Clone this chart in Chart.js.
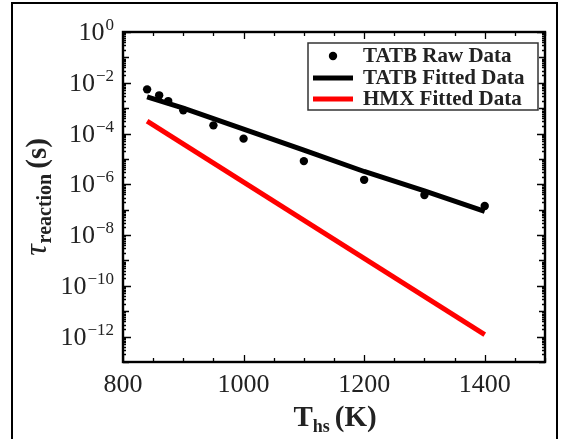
<!DOCTYPE html>
<html lang="en">
<head>
<meta charset="UTF-8" />
<title>Reaction time vs hot-spot temperature</title>
<script src="https://cdn.jsdelivr.net/npm/chart.js"></script>
<style>
  html, body { margin: 0; padding: 0; background: #fff; }
  #wrap { position: relative; width: 562px; height: 439px; overflow: hidden; }
  #frame { position: absolute; left: 11px; top: 2px; width: 547px; height: 440px;
           border: 2px solid #000; border-bottom: none; box-sizing: border-box; }
  #chart { position: absolute; left: 0; top: 0; }
</style>
</head>
<body>
<div id="wrap">
  <div id="frame"></div>
  <canvas id="chart" width="562" height="439"></canvas>
</div>
<script>
// data
const rawTemps = [840, 860, 875, 900, 950, 1000, 1100, 1200, 1300, 1400];
const rawTau = [5.5e-3, 3.2e-3, 1.9e-3, 8.2e-4, 2.1e-4, 6.3e-5, 8.2e-6, 1.5e-6, 3.8e-7, 1.4e-7];

const tatbFitTemps = [840, 900, 1000, 1100, 1200, 1300, 1400];
const tatbFitTau = [2.8e-3, 1.0e-3, 1.5e-4, 2.2e-5, 3.2e-6, 5.5e-7, 8.5e-8];

const hmxFitTemps = [840, 1400];
const hmxFitTau = [3.1e-4, 1.2e-12];

const xTickValues = [800, 1000, 1200, 1400];
const yTickExponents = [0, -2, -4, -6, -8, -10, -12];

const SERIF = '"Liberation Serif", "DejaVu Serif", serif';

function pts(xs, ys) {
    return xs.map((x, i) => ({ x: x, y: ys[i] }));
}

// frame + inward ticks on all four sides
const frameTicks = {
    id: 'frameTicks',
    afterDatasetsDraw(chart) {
        const ctx = chart.ctx, a = chart.chartArea;
        const xs = chart.scales.x, ys = chart.scales.y;
        ctx.save();
        ctx.strokeStyle = '#000';
        ctx.lineWidth = 1.3;
        ctx.beginPath();
        for (let v = 800; v <= 1500; v += 50) {
            const px = Math.round(xs.getPixelForValue(v)) + 0.5;
            const len = v % 200 === 0 ? 7 : 4;
            ctx.moveTo(px, a.bottom); ctx.lineTo(px, a.bottom - len);
            ctx.moveTo(px, a.top); ctx.lineTo(px, a.top + len);
        }
        for (let d = -13; d <= 0; d++) {
            for (let k = 1; k <= 9; k++) {
                const v = k * Math.pow(10, d);
                if (v > 1) break;
                const py = Math.round(ys.getPixelForValue(v)) + 0.5;
                const len = k === 1 ? (d % 2 === 0 ? 8 : 6) : 3;
                ctx.moveTo(a.left, py); ctx.lineTo(a.left + len, py);
                ctx.moveTo(a.right, py); ctx.lineTo(a.right - len, py);
            }
        }
        ctx.stroke();
        ctx.lineWidth = 2.4;
        ctx.strokeRect(a.left, a.top, a.right - a.left, a.bottom - a.top);
        ctx.restore();
    }
};

// y tick labels as 10 with a raised exponent
const powerLabels = {
    id: 'powerLabels',
    afterDraw(chart) {
        const ctx = chart.ctx, ys = chart.scales.y;
        const baseF = '26px ' + SERIF, expF = '17px ' + SERIF;
        ctx.save();
        ctx.fillStyle = '#222';
        ctx.textBaseline = 'alphabetic';
        ctx.textAlign = 'left';
        yTickExponents.forEach(e => {
            const py = ys.getPixelForValue(Math.pow(10, e));
            const expText = e < 0 ? '\u2212' + Math.abs(e) : String(e);
            ctx.font = expF; const wE = ctx.measureText(expText).width;
            ctx.font = baseF; const wB = ctx.measureText('10').width;
            const right = 114;
            ctx.fillText('10', right - wE - 1 - wB, py + 8);
            ctx.font = expF;
            ctx.fillText(expText, right - wE, py - 2);
        });
        ctx.restore();
    }
};

// legend box in the upper right of the plot
const boxLegend = {
    id: 'boxLegend',
    afterDraw(chart) {
        const ctx = chart.ctx;
        const bx = 308, by = 43, bw = 230, bh = 67;
        const rows = [56, 78, 99];
        ctx.save();
        ctx.fillStyle = '#fff';
        ctx.fillRect(bx, by, bw, bh);
        ctx.strokeStyle = '#333';
        ctx.lineWidth = 1.5;
        ctx.strokeRect(bx, by, bw, bh);
        chart.data.datasets.forEach((ds, i) => {
            const y = rows[i];
            if (ds.showLine) {
                ctx.strokeStyle = ds.borderColor;
                ctx.lineWidth = 5;
                ctx.beginPath();
                ctx.moveTo(313, y); ctx.lineTo(353, y);
                ctx.stroke();
            } else {
                ctx.fillStyle = ds.backgroundColor;
                ctx.beginPath();
                ctx.arc(333, y, 4.2, 0, Math.PI * 2);
                ctx.fill();
            }
            ctx.fillStyle = '#222';
            ctx.font = 'bold 21px ' + SERIF;
            ctx.textBaseline = 'middle';
            ctx.textAlign = 'left';
            ctx.fillText(ds.label, 363, y + 1);
        });
        ctx.restore();
    }
};

// axis titles with subscripts
const axisTitles = {
    id: 'axisTitles',
    afterDraw(chart) {
        const ctx = chart.ctx;
        ctx.save();
        ctx.fillStyle = '#222';
        ctx.textBaseline = 'alphabetic';
        ctx.textAlign = 'left';

        // x: T_hs (K)
        const bigX = 'bold 29px ' + SERIF, smallX = 'bold 18px ' + SERIF;
        ctx.font = bigX; const wT = ctx.measureText('T').width;
        const wK = ctx.measureText('(K)').width;
        ctx.font = smallX; const wHs = ctx.measureText('hs').width;
        let x = 335 - (wT + wHs + 5 + wK) / 2;
        const base = 426;
        ctx.font = bigX; ctx.fillText('T', x, base); x += wT;
        ctx.font = smallX; ctx.fillText('hs', x, base + 6); x += wHs + 5;
        ctx.font = bigX; ctx.fillText('(K)', x, base);

        // y: tau_reaction (s), rotated
        const tauF = 'italic 32px ' + SERIF, subF = 'bold 20px ' + SERIF, unitF = 'bold 29px ' + SERIF;
        ctx.font = tauF; const wTau = ctx.measureText('τ').width;
        ctx.font = subF; const wSub = ctx.measureText('reaction').width;
        ctx.font = unitF; const wS = ctx.measureText('(s)').width;
        const total = wTau + 1 + wSub + 5 + wS;
        ctx.translate(46, 197);
        ctx.rotate(-Math.PI / 2);
        let t = -total / 2;
        ctx.font = tauF; ctx.fillText('τ', t, 0); t += wTau + 1;
        ctx.font = subF; ctx.fillText('reaction', t, 5); t += wSub + 5;
        ctx.font = unitF; ctx.fillText('(s)', t, 0);
        ctx.restore();
    }
};

new Chart(document.getElementById('chart'), {
    type: 'scatter',
    data: {
        datasets: [{
            label: 'TATB Raw Data',
            data: pts(rawTemps, rawTau),
            showLine: false,
            pointRadius: 4.2,
            pointBackgroundColor: '#000',
            backgroundColor: '#000',
            borderColor: '#000',
            pointBorderWidth: 0
        }, {
            label: 'TATB Fitted Data',
            data: pts(tatbFitTemps, tatbFitTau),
            showLine: true,
            borderColor: '#000',
            borderWidth: 5,
            pointRadius: 0,
            tension: 0
        }, {
            label: 'HMX Fitted Data',
            data: pts(hmxFitTemps, hmxFitTau),
            showLine: true,
            borderColor: '#ff0000',
            borderWidth: 5,
            pointRadius: 0
        }]
    },
    options: {
        responsive: false,
        animation: false,
        layout: { padding: { left: 0, top: 32, right: 17, bottom: 0 } },
        plugins: {
            legend: { display: false },
            tooltip: { enabled: false }
        },
        scales: {
            x: {
                type: 'linear',
                min: 800,
                max: 1500,
                afterBuildTicks: s => { s.ticks = xTickValues.map(v => ({ value: v })); },
                afterFit: s => { s.height = 77; },
                grid: { display: false, drawTicks: false },
                border: { display: false },
                ticks: {
                    color: '#222',
                    font: { family: SERIF, size: 26 },
                    padding: 8,
                    maxRotation: 0,
                    callback: v => String(v)
                }
            },
            y: {
                type: 'logarithmic',
                min: 1e-13,
                max: 1,
                afterBuildTicks: s => { s.ticks = yTickExponents.map(e => ({ value: Math.pow(10, e) })); },
                afterFit: s => { s.width = 123; },
                grid: { display: false, drawTicks: false },
                border: { display: false },
                ticks: { display: false }
            }
        }
    },
    plugins: [frameTicks, powerLabels, boxLegend, axisTitles]
});
</script>
</body>
</html>
